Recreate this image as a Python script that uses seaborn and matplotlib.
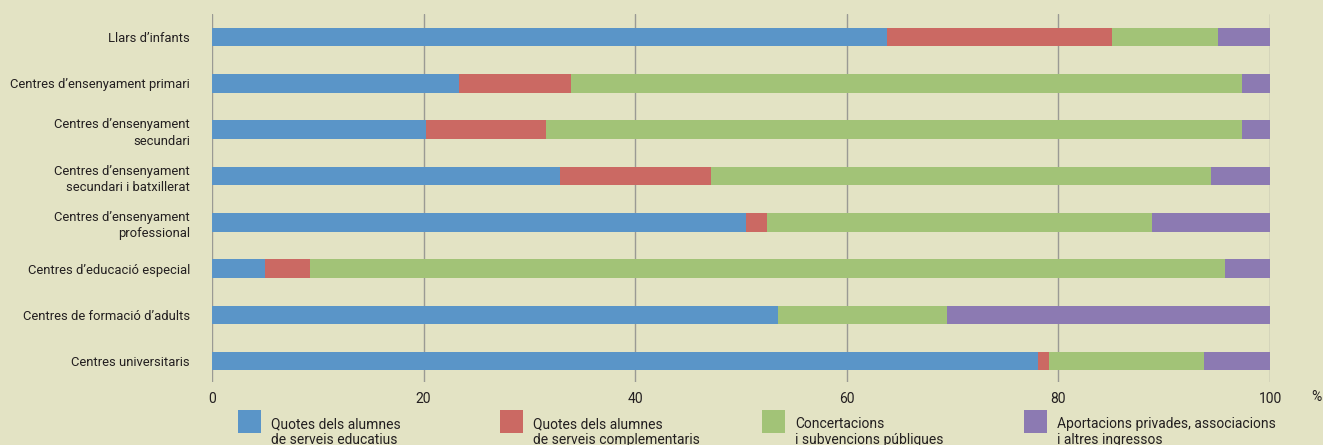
import matplotlib
matplotlib.use("Agg")
import matplotlib.pyplot as plt
import matplotlib.patches as mpatches
from matplotlib.legend_handler import HandlerPatch
import seaborn as sns
import numpy as np

# Categories (top to bottom) and the four income sources, in %
categories = ["Llars d’infants",
              "Centres d’ensenyament primari",
              "Centres d’ensenyament\nsecundari",
              "Centres d’ensenyament\nsecundari i batxillerat",
              "Centres d’ensenyament\nprofessional",
              "Centres d’educació especial",
              "Centres de formació d’adults",
              "Centres universitaris"]

quotes_educatius = [63.8, 23.3, 20.2, 32.9, 50.5, 5.0, 53.5, 78.1]
quotes_complementaris = [21.3, 10.6, 11.4, 14.3, 2.0, 4.3, 0.0, 1.0]
concertacions = [10.0, 63.5, 65.8, 47.2, 36.3, 86.4, 16.0, 14.7]
aportacions = [4.9, 2.6, 2.6, 5.6, 11.2, 4.3, 30.5, 6.2]

series_labels = ["Quotes dels alumnes\nde serveis educatius",
                 "Quotes dels alumnes\nde serveis complementaris",
                 "Concertacions\ni subvencions públiques",
                 "Aportacions privades, associacions\ni altres ingressos"]
colors = ["#5A95C8", "#CB6963", "#A2C377", "#8C7AB2"]

xticks = [0, 20, 40, 60, 80, 100]

bg = "#E3E3C4"
text_color = "#231F20"
fs = 10

sns.set_style("white")
plt.rcParams["font.family"] = ["Roboto", "Liberation Sans", "DejaVu Sans"]

fig = plt.figure(figsize=(13.23, 4.45), dpi=100, facecolor=bg)
ax = fig.add_axes([212 / 1323, 1 - 382 / 445, 1058 / 1323, 368 / 445])
ax.set_facecolor(bg)

# stacked bars: draw cumulative totals from the longest to the shortest
series = [quotes_educatius, quotes_complementaris, concertacions, aportacions]
cum = np.cumsum(np.array(series), axis=0)
for i in range(len(series) - 1, -1, -1):
    sns.barplot(x=cum[i], y=categories, color=colors[i], saturation=1,
                width=0.4, linewidth=0, orient="h", ax=ax, zorder=2)

ax.set_xlim(0, 100)
ax.set_ylim(7.45, -0.5)
ax.set_xticks(xticks)
ax.set_xticklabels([str(t) for t in xticks])
ax.xaxis.grid(True, color="#9A9A94", linewidth=1)
ax.set_axisbelow(True)
for s in ax.spines.values():
    s.set_visible(False)
ax.set_xlabel("")
ax.set_ylabel("")
ax.tick_params(axis="y", length=0, pad=16, labelsize=9.4, labelcolor=text_color)
ax.tick_params(axis="x", length=0, pad=7.5, labelsize=fs, labelcolor=text_color)
for lbl in ax.get_yticklabels():
    lbl.set_linespacing(1.35)

fig.text(1316 / 1323, 1 - 397 / 445, "%", ha="center", va="center",
         fontsize=fs, color=text_color)


# square legend keys sitting beside the first line of the label
def square_key(legend, orig_handle, xdescent, ydescent, width, height, fontsize):
    return mpatches.Rectangle((-xdescent, -ydescent + 3.2), 16.5, 16.5)


for i, lab in enumerate(series_labels):
    h = mpatches.Patch(facecolor=colors[i], edgecolor="none")
    fig.legend(handles=[h], labels=[lab], loc="upper left",
               bbox_to_anchor=((238 + 262 * i) / 1323, 1 - 417 / 445),
               frameon=False, fontsize=fs, handlelength=1.65,
               handletextpad=0.72, borderpad=0, borderaxespad=0,
               labelcolor=text_color,
               handler_map={mpatches.Patch: HandlerPatch(patch_func=square_key)})

fig.savefig("out.png", dpi=100, facecolor=bg)
